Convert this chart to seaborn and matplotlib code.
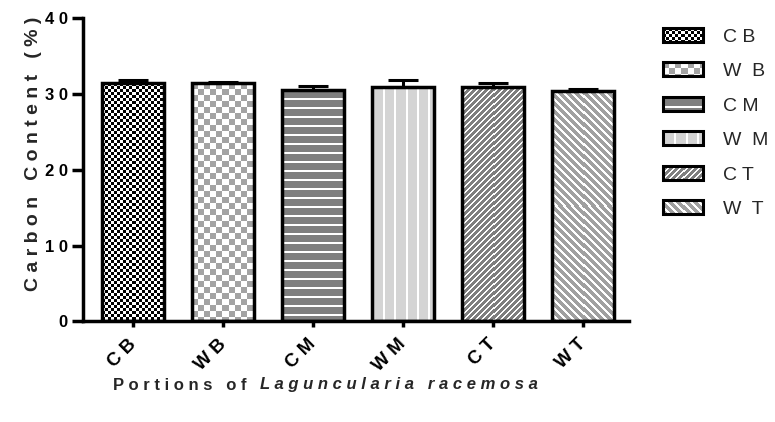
import numpy as np
import matplotlib
matplotlib.use("Agg")
import matplotlib.pyplot as plt
import seaborn as sns
from matplotlib.image import BboxImage
from matplotlib.patches import Rectangle, Patch
from matplotlib.transforms import Bbox, TransformedBbox
from matplotlib.legend_handler import HandlerBase

# ---- data -------------------------------------------------------------
categories = ["CB", "WB", "CM", "WM", "CT", "WT"]
tick_labels = ["C B", "W B", "C M", "W M", "C T", "W T"]
legend_labels = ["C B", "W  B", "C M", "W  M", "C T", "W  T"]
carbon_mean = [31.4, 31.4, 30.6, 31.0, 31.0, 30.4]
carbon_err = [0.45, 0.25, 0.5, 0.9, 0.45, 0.25]
yticks = [0, 10, 20, 30, 40]
ytick_labels = ["0", "1 0", "2 0", "3 0", "4 0"]

# ---- fill textures per portion -----------------------------------------
WHITE = np.array([1.0, 1.0, 1.0])


def hexrgb(h):
    return np.array(matplotlib.colors.to_rgb(h))


TEXTURES = {
    "CB": ("check", 3, hexrgb("#000000")),
    "WB": ("check", 6, hexrgb("#a3a3a3")),
    "CM": ("hline", 9, hexrgb("#7f7f7f")),
    "WM": ("vline", 11, hexrgb("#d4d4d4")),
    "CT": ("diag_up", 6, hexrgb("#7f7f7f")),
    "WT": ("diag_down", 8, hexrgb("#a0a0a0")),
}


def texture(key, h, w):
    kind, period, col = TEXTURES[key]
    h, w = max(int(round(h)), 1), max(int(round(w)), 1)
    yy, xx = np.mgrid[0:h, 0:w]
    if kind == "check":
        mask = ((xx // period + yy // period) % 2) == 0
    elif kind == "hline":
        mask = (yy % period) >= 2
    elif kind == "vline":
        mask = (xx % period) >= 2
    elif kind == "diag_up":
        mask = ((xx + yy) % period) >= 2
    else:
        mask = ((xx - yy) % period) >= 3
    img = np.where(mask[..., None], col, WHITE)
    return img


class TextureHandler(HandlerBase):
    def __init__(self, key):
        super().__init__()
        self.key = key

    def create_artists(self, legend, orig_handle, xdescent, ydescent,
                       width, height, fontsize, trans):
        dpi = legend.figure.dpi
        bb = TransformedBbox(Bbox.from_bounds(-xdescent, -ydescent, width, height), trans)
        img = BboxImage(bb, interpolation="nearest")
        img.set_data(texture(self.key, height * dpi / 72, width * dpi / 72))
        frame = Rectangle((-xdescent, -ydescent), width, height, fill=False,
                          edgecolor="black", linewidth=2.2, transform=trans)
        return [img, frame]


# ---- figure -----------------------------------------------------------
sns.set_theme(style="white")
plt.rcParams["font.family"] = ["Liberation Sans", "DejaVu Sans"]

fig = plt.figure(figsize=(7.75, 4.22), dpi=100)
ax = fig.add_axes([0.1071, 0.2382, 0.7045, 0.7184])

sns.barplot(x=categories, y=carbon_mean, color="white", width=0.69,
            edgecolor="black", linewidth=2.5, errorbar=None, ax=ax, zorder=2)

ax.set_xlim(-0.56, 5.51)
ax.set_ylim(0, 40)

bars = list(ax.patches)
fig.canvas.draw()
for key, bar in zip(categories, bars):
    bar.set_facecolor("none")
    x0, x1 = bar.get_x(), bar.get_x() + bar.get_width()
    y0, y1 = bar.get_y(), bar.get_y() + bar.get_height()
    (px0, py0), (px1, py1) = ax.transData.transform([(x0, y0), (x1, y1)])
    im = ax.imshow(texture(key, abs(py1 - py0), abs(px1 - px0)),
                   extent=(x0, x1, y0, y1), aspect="auto",
                   interpolation="nearest", zorder=1)
    im.set_clip_path(bar)

ax.set_xlim(-0.56, 5.51)
ax.set_ylim(0, 40)

centers = [b.get_x() + b.get_width() / 2 for b in bars]
ax.errorbar(centers, carbon_mean,
            yerr=[np.zeros(len(carbon_err)), carbon_err],
            fmt="none", ecolor="black", elinewidth=2.2, capsize=11,
            capthick=2.2, zorder=3)

# axes styling
for side in ("top", "right"):
    ax.spines[side].set_visible(False)
for side in ("left", "bottom"):
    ax.spines[side].set_linewidth(2.5)
    ax.spines[side].set_color("black")

ax.set_yticks(yticks)
ax.set_yticklabels(ytick_labels, fontsize=12, fontweight="bold")
ax.set_xticks(range(len(categories)))
ax.set_xticklabels(tick_labels, rotation=45, ha="right", va="center",
                   rotation_mode="anchor", fontsize=13.5, fontweight="bold")
ax.tick_params(axis="y", direction="out", length=8, width=2.5, pad=3,
               left=True, colors="black")
ax.tick_params(axis="x", direction="out", length=4.5, width=2.5, pad=10,
               bottom=True, colors="black")
ax.set_xlabel("")
ax.set_ylabel("C a r b o n   C o n t e n t   ( % )", fontsize=14,
              fontweight="bold", va="center")
ax.yaxis.set_label_coords(-0.09, 0.552)

# x-axis title with italic species name
t1 = fig.text(113 / 775, 1 - 385 / 422, "P o r t i o n s   o f   ",
              fontsize=12, fontweight="bold", ha="left", va="center")
fig.canvas.draw()
ax.annotate("L a g u n c u l a r i a   r a c e m o s a", xy=(1, 0.5),
            xycoords=t1, ha="left", va="center", fontsize=12,
            fontweight="bold", fontstyle="italic", annotation_clip=False)

# legend
handles = [Patch() for _ in categories]
leg = fig.legend(handles, legend_labels,
                 handler_map={h: TextureHandler(k) for h, k in zip(handles, categories)},
                 loc="upper left", bbox_to_anchor=(663 / 775, 1 - 28 / 422),
                 frameon=False, fontsize=14, handlelength=2.06, handleheight=0.72,
                 handletextpad=1.03, labelspacing=0.86, borderpad=0,
                 borderaxespad=0)

fig.savefig("out.png", dpi=100)
